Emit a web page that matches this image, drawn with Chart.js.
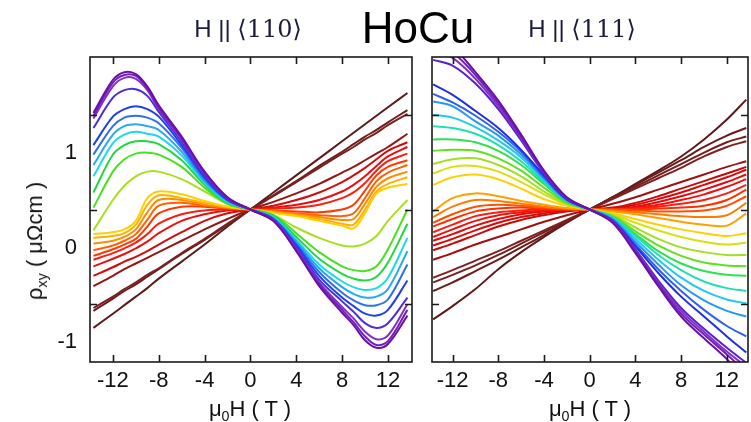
<!DOCTYPE html>
<html><head><meta charset="utf-8">
<script src="https://cdn.jsdelivr.net/npm/chart.js@4.4.1/dist/chart.umd.min.js"></script>
<style>
html,body{margin:0;padding:0;background:#fff;width:751px;height:422px;overflow:hidden;}
#wrap{position:relative;width:751px;height:422px;}
canvas{position:absolute;top:0;}
.t{position:absolute;white-space:nowrap;font-family:"Liberation Sans",Arial,sans-serif;color:#111;transform:translate(-50%,-50%);line-height:1;}
.t sub{font-size:65%;vertical-align:-0.35em;line-height:0;}
.ang{font-family:"DejaVu Serif","Liberation Serif",serif;}
</style></head><body>
<div id="wrap">
<canvas id="c1" width="425" height="422" style="left:0;width:425px;height:422px"></canvas>
<canvas id="c2" width="331" height="422" style="left:420px;width:331px;height:422px"></canvas>
<div class="t" style="left:248px;top:29px;font-size:24px;color:#1c1c3c">H || <span class="ang">⟨110⟩</span></div>
<div class="t" style="left:418px;top:28px;font-size:44px;color:#000">HoCu</div>
<div class="t" style="left:582px;top:29px;font-size:24px;color:#1c1c3c">H || <span class="ang">⟨111⟩</span></div>
<div class="t" style="left:35px;top:241px;font-size:22px;transform:translate(-50%,-50%) rotate(-90deg)">ρ<sub>xy</sub> ( μΩcm )</div>
<div class="t" style="left:250px;top:409px;font-size:22px">μ<sub>0</sub>H ( T )</div>
<div class="t" style="left:590px;top:409px;font-size:22px">μ<sub>0</sub>H ( T )</div>
</div>
<script>
// ---- field grids (T) ----
const fieldL = [-13.7,-12,-11,-10,-9,-8,-6,-4,-2,0,2,4,6,8,9,10,11,12,13.7];
const fieldR = [-13.7,-12,-10,-8,-6,-4,-2,0,2,4,6,8,10,12,13.7];
const xTickValues = [-12,-8,-4,0,4,8,12];
const yTickValues = [-1,0,1];
const yTickLabels = ['-1','0','1'];

// ---- H || <110> : rho_xy (micro-ohm cm), one array per temperature ----
const L01 = [1.02,1.37,1.45,1.43,1.30,1.10,0.77,0.40,0.13,0,-0.12,-0.44,-0.81,-1.09,-1.22,-1.38,-1.46,-1.42,-1.12];
const L02 = [0.99,1.34,1.42,1.41,1.28,1.08,0.75,0.39,0.12,0,-0.12,-0.43,-0.79,-1.06,-1.19,-1.34,-1.43,-1.39,-1.06];
const L03 = [0.96,1.30,1.39,1.38,1.26,1.06,0.74,0.38,0.12,0,-0.11,-0.42,-0.77,-1.03,-1.15,-1.29,-1.37,-1.33,-1.00];
const L04 = [0.86,1.18,1.26,1.27,1.20,1.03,0.71,0.36,0.11,0,-0.11,-0.40,-0.74,-0.97,-1.08,-1.20,-1.25,-1.20,-0.93];
const L05 = [0.68,0.98,1.06,1.09,1.06,0.98,0.68,0.34,0.10,0,-0.10,-0.38,-0.70,-0.93,-1.02,-1.10,-1.12,-1.06,-0.75];
const L06 = [0.58,0.88,0.97,0.99,0.97,0.91,0.65,0.32,0.10,0,-0.10,-0.36,-0.66,-0.88,-0.96,-1.01,-1.01,-0.95,-0.58];
const L07 = [0.47,0.79,0.88,0.90,0.88,0.84,0.61,0.30,0.09,0,-0.09,-0.34,-0.62,-0.82,-0.89,-0.93,-0.92,-0.84,-0.44];
const L08 = [0.35,0.70,0.79,0.82,0.80,0.77,0.57,0.28,0.08,0,-0.08,-0.32,-0.58,-0.76,-0.82,-0.85,-0.83,-0.72,-0.30];
const L09 = [0.18,0.58,0.68,0.72,0.72,0.69,0.52,0.26,0.07,0,-0.07,-0.29,-0.52,-0.68,-0.73,-0.75,-0.71,-0.56,-0.15];
const L10 = [0.02,0.40,0.53,0.59,0.60,0.58,0.45,0.23,0.06,0,-0.06,-0.25,-0.45,-0.60,-0.64,-0.65,-0.60,-0.42,0.00];
const L11 = [-0.22,0.10,0.25,0.35,0.40,0.40,0.32,0.19,0.06,0,-0.06,-0.19,-0.30,-0.38,-0.39,-0.36,-0.28,-0.12,0.10];
const L12 = [-0.26,-0.24,-0.21,-0.12,0.12,0.19,0.16,0.09,0.03,0,-0.035,-0.07,-0.12,-0.17,-0.20,-0.04,0.17,0.23,0.27];
const L13 = [-0.30,-0.28,-0.25,-0.16,0.05,0.15,0.12,0.07,0.03,0,-0.03,-0.06,-0.10,-0.15,-0.16,0.00,0.19,0.27,0.34];
const L14 = [-0.36,-0.33,-0.29,-0.21,-0.03,0.10,0.10,0.05,0.02,0,-0.02,-0.05,-0.08,-0.11,-0.10,0.06,0.24,0.33,0.40];
const L15 = [-0.43,-0.38,-0.33,-0.26,-0.11,0.04,0.07,0.04,0.015,0,-0.015,-0.04,-0.06,-0.07,-0.04,0.12,0.30,0.39,0.47];
const L16 = [-0.49,-0.42,-0.37,-0.31,-0.18,-0.04,0.03,0.03,0.01,0,-0.01,-0.02,-0.03,0.00,0.05,0.20,0.36,0.45,0.52];
const L17 = [-0.53,-0.46,-0.41,-0.35,-0.26,-0.15,-0.05,-0.01,0.0,0,0.01,0.02,0.05,0.12,0.18,0.28,0.41,0.51,0.59];
const L18 = [-0.60,-0.52,-0.47,-0.41,-0.34,-0.25,-0.12,-0.05,-0.01,0,0.02,0.05,0.10,0.19,0.26,0.35,0.46,0.56,0.66];
const L19 = [-0.70,-0.61,-0.55,-0.50,-0.44,-0.37,-0.24,-0.12,-0.04,0,0.04,0.10,0.18,0.29,0.36,0.44,0.53,0.62,0.71];
const L20 = [-0.81,-0.70,-0.63,-0.57,-0.51,-0.45,-0.33,-0.21,-0.10,0,0.08,0.17,0.27,0.39,0.45,0.52,0.59,0.66,0.80];
const L21 = [-1.04,-0.92,-0.84,-0.77,-0.69,-0.62,-0.46,-0.31,-0.15,0,0.14,0.29,0.44,0.59,0.66,0.74,0.81,0.89,1.01];
const L22 = [-1.07,-0.94,-0.86,-0.79,-0.71,-0.63,-0.47,-0.32,-0.16,0,0.15,0.30,0.46,0.61,0.69,0.77,0.84,0.92,1.05];
const L23 = [-1.25,-1.10,-1.01,-0.92,-0.83,-0.73,-0.55,-0.37,-0.18,0,0.18,0.36,0.54,0.72,0.81,0.90,0.99,1.08,1.23];

// ---- H || <111> ----
const R01 = [1.85,1.72,1.45,1.15,0.79,0.41,0.13,0,-0.14,-0.46,-0.81,-1.13,-1.36,-1.58,-1.80];
const R02 = [1.76,1.66,1.42,1.12,0.77,0.40,0.12,0,-0.13,-0.44,-0.79,-1.10,-1.32,-1.53,-1.72];
const R03 = [1.68,1.60,1.38,1.09,0.75,0.39,0.12,0,-0.13,-0.43,-0.77,-1.07,-1.29,-1.50,-1.66];
const R04 = [1.58,1.52,1.33,1.06,0.73,0.38,0.11,0,-0.12,-0.42,-0.75,-1.04,-1.26,-1.46,-1.62];
const R05 = [1.32,1.21,1.04,0.86,0.63,0.36,0.11,0,-0.12,-0.39,-0.67,-0.92,-1.13,-1.34,-1.51];
const R06 = [1.22,1.13,0.99,0.82,0.61,0.34,0.10,0,-0.11,-0.37,-0.63,-0.86,-1.06,-1.23,-1.34];
const R07 = [1.14,1.09,0.93,0.78,0.58,0.33,0.10,0,-0.10,-0.34,-0.58,-0.80,-0.96,-1.07,-1.13];
const R08 = [1.00,0.97,0.87,0.73,0.55,0.31,0.09,0,-0.09,-0.31,-0.53,-0.72,-0.86,-0.95,-0.99];
const R09 = [0.88,0.86,0.80,0.68,0.51,0.29,0.09,0,-0.08,-0.28,-0.48,-0.64,-0.76,-0.83,-0.86];
const R10 = [0.74,0.74,0.71,0.62,0.47,0.27,0.08,0,-0.08,-0.26,-0.44,-0.57,-0.65,-0.69,-0.70];
const R11 = [0.62,0.63,0.62,0.54,0.41,0.23,0.07,0,-0.07,-0.23,-0.38,-0.49,-0.56,-0.59,-0.60];
const R12 = [0.48,0.53,0.54,0.47,0.35,0.19,0.06,0,-0.06,-0.19,-0.31,-0.40,-0.45,-0.48,-0.48];
const R13 = [0.38,0.45,0.46,0.40,0.29,0.16,0.05,0,-0.05,-0.14,-0.22,-0.29,-0.34,-0.37,-0.35];
const R14 = [0.26,0.34,0.37,0.32,0.22,0.11,0.04,0,-0.04,-0.10,-0.16,-0.21,-0.25,-0.28,-0.25];
const R15 = [-0.02,0.12,0.17,0.14,0.09,0.05,0.015,0,-0.02,-0.05,-0.09,-0.13,-0.16,-0.17,-0.04];
const R16 = [-0.08,0.03,0.10,0.09,0.06,0.03,0.01,0,-0.01,-0.03,-0.05,-0.07,-0.08,-0.06,0.07];
const R17 = [-0.14,-0.05,0.03,0.05,0.04,0.02,0.005,0,0.0,-0.01,-0.02,-0.02,-0.01,0.04,0.14];
const R18 = [-0.18,-0.10,-0.02,0.01,0.02,0.01,0.0,0,0.0,0.0,0.01,0.02,0.04,0.10,0.21];
const R19 = [-0.24,-0.16,-0.07,-0.03,-0.01,0.0,0.0,0,0.0,0.01,0.03,0.06,0.10,0.17,0.26];
const R20 = [-0.29,-0.21,-0.12,-0.06,-0.03,-0.01,0.0,0,0.0,0.02,0.05,0.10,0.16,0.24,0.32];
const R21 = [-0.33,-0.26,-0.17,-0.10,-0.05,-0.02,-0.005,0,0.01,0.03,0.08,0.14,0.21,0.29,0.37];
const R22 = [-0.38,-0.31,-0.22,-0.14,-0.08,-0.04,-0.01,0,0.01,0.05,0.11,0.18,0.26,0.34,0.42];
const R23 = [-0.43,-0.36,-0.27,-0.18,-0.11,-0.06,-0.02,0,0.02,0.07,0.14,0.22,0.30,0.38,0.45];
const R24 = [-0.53,-0.46,-0.37,-0.29,-0.21,-0.13,-0.06,0,0.06,0.13,0.21,0.29,0.37,0.45,0.51];
const R25 = [-0.72,-0.64,-0.54,-0.44,-0.33,-0.22,-0.11,0,0.11,0.22,0.33,0.44,0.56,0.66,0.72];
const R26 = [-0.77,-0.69,-0.59,-0.48,-0.36,-0.24,-0.12,0,0.12,0.24,0.36,0.48,0.60,0.71,0.77];
const R27 = [-0.86,-0.77,-0.65,-0.53,-0.40,-0.27,-0.13,0,0.13,0.26,0.39,0.52,0.66,0.78,0.86];
const R28 = [-1.16,-1.02,-0.84,-0.63,-0.45,-0.29,-0.14,0,0.13,0.27,0.41,0.56,0.74,0.95,1.16];

const seriesL = [L01,L02,L03,L04,L05,L06,L07,L08,L09,L10,L11,L12,L13,L14,L15,L16,L17,L18,L19,L20,L21,L22,L23];
const seriesR = [R01,R02,R03,R04,R05,R06,R07,R08,R09,R10,R11,R12,R13,R14,R15,R16,R17,R18,R19,R20,R21,R22,R23,R24,R25,R26,R27,R28];

// ---- styles ----
const colorsL = ['#6b10a8','#7420b8','#8030c8','#4a2ee0','#2040e8','#3070f0','#28a8f0','#20d8e8','#20d840','#48e020','#a8e020',
  '#ffd000','#ffb000','#ff8c00','#ff6000','#ff3a00','#f82010','#e81010','#d00c0c','#901818','#7a2222','#6e1e1e','#5c1a1a'];
const colorsR = ['#6b10a8','#7420b8','#8030c8','#5a20d0','#2030e0','#2f60f0','#2a98f0','#20c8f0','#20e0b0','#30e050','#60e020','#a0e020',
  '#d8e010','#ffd000','#ffa000','#ff7a00','#ff5000','#ff3000','#f82010','#f01010','#e00c0c','#d80a0a','#c80a0a','#a01010',
  '#802020','#742020','#6a1c1c','#5e1a1a'];

const frameTicks = {
  id: 'frameTicks',
  afterDatasetsDraw(chart) {
    const {ctx, chartArea: a, scales: {x, y}} = chart;
    ctx.save();
    ctx.strokeStyle = '#1a1a1a';
    ctx.lineWidth = 1.6;
    ctx.strokeRect(a.left, a.top, a.right - a.left, a.bottom - a.top);
    const L = 7;
    ctx.beginPath();
    x.ticks.forEach(t => {
      const px = Math.round(x.getPixelForValue(t.value)) + 0.5;
      ctx.moveTo(px, a.bottom); ctx.lineTo(px, a.bottom - L);
      ctx.moveTo(px, a.top); ctx.lineTo(px, a.top + L);
    });
    y.ticks.forEach(t => {
      const py = Math.round(y.getPixelForValue(t.value)) + 0.5;
      ctx.moveTo(a.left, py); ctx.lineTo(a.left + L, py);
      ctx.moveTo(a.right, py); ctx.lineTo(a.right - L, py);
    });
    ctx.stroke();
    ctx.restore();
  }
};

function makeDatasets(fields, series, colors) {
  return series.map((s, i) => ({
    data: fields.map((h, j) => ({x: h, y: s[j]})),
    borderColor: colors[i],
    borderWidth: 2,
    pointRadius: 0,
    tension: 0.35,
    fill: false
  }));
}

const tickFont = {family: '"Liberation Sans", Arial, sans-serif', size: 22};

function makeChart(id, fields, series, colors, xMin, xMax, padLeft, padRight, yAxisWidth, showYLabels) {
  return new Chart(document.getElementById(id), {
    type: 'line',
    data: {datasets: makeDatasets(fields, series, colors)},
    options: {
      responsive: false,
      animation: false,
      devicePixelRatio: 1,
      layout: {padding: {left: padLeft, right: padRight, top: 57, bottom: 0}},
      plugins: {legend: {display: false}, tooltip: {enabled: false}, title: {display: false}},
      scales: {
        x: {
          type: 'linear', min: xMin, max: xMax,
          afterBuildTicks: s => { s.ticks = xTickValues.map(v => ({value: v})); },
          afterFit: s => { s.height = 60; },
          grid: {display: false, drawTicks: false},
          border: {display: false},
          ticks: {font: tickFont, color: '#111', padding: 6, maxRotation: 0, autoSkip: false,
                  callback: v => String(v)}
        },
        y: {
          type: 'linear', min: -1.61, max: 1.61,
          afterBuildTicks: s => { s.ticks = yTickValues.map(v => ({value: v})); },
          afterFit: s => { s.width = yAxisWidth; },
          grid: {display: false, drawTicks: false},
          border: {display: false},
          ticks: {display: showYLabels, font: tickFont, color: '#111', padding: 13, labelOffset: 38,
                  callback: v => yTickLabels[yTickValues.indexOf(v)]}
        }
      }
    },
    plugins: [frameTicks]
  });
}

makeChart('c1', fieldL, seriesL, colorsL, -14, 14.1, 0, 13, 90, true);
makeChart('c2', fieldR, seriesR, colorsR, -13.8, 13.85, 0, 3, 12, false);
</script>
</body></html>
